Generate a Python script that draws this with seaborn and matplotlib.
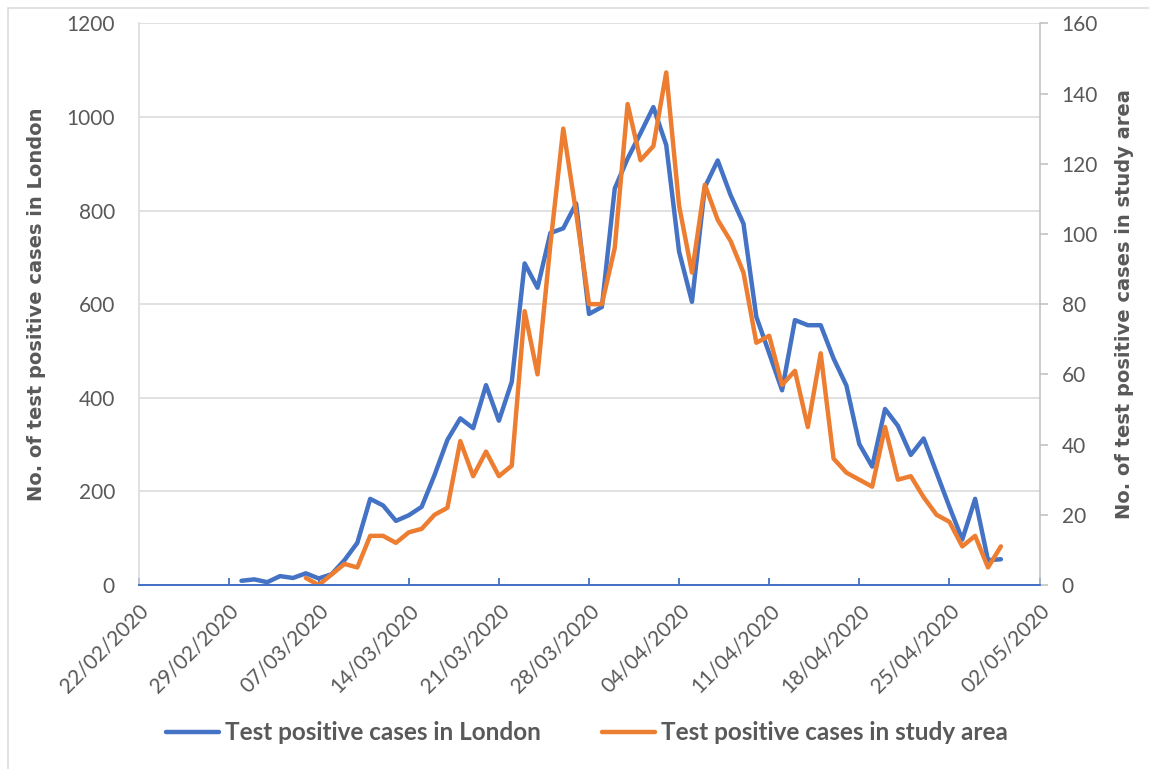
import pandas as pd
import seaborn as sns
import matplotlib.pyplot as plt
import matplotlib.dates as mdates
from matplotlib.lines import Line2D

# daily test positive cases, London (from 01/03/2020)
london_start = "2020-03-01"
london_cases = [9, 12, 6, 19, 15, 25, 14, 23, 53, 90,
                184, 170, 137, 149, 167, 235, 310, 356, 335, 427,
                351, 434, 687, 635, 752, 762, 815, 579, 594, 847,
                911, 965, 1021, 940, 712, 605, 850, 907, 833, 772,
                573, 495, 416, 566, 555, 555, 484, 426, 301, 253,
                376, 340, 278, 313, 240, 167, 97, 184, 53, 55]

# daily test positive cases, study area (from 06/03/2020)
study_start = "2020-03-06"
study_cases = [2, 0, 3, 6, 5, 14, 14, 12, 15, 16,
               20, 22, 41, 31, 38, 31, 34, 78, 60, 97,
               130, 106, 80, 80, 96, 137, 121, 125, 146, 108,
               89, 114, 104, 98, 89, 69, 71, 57, 61, 45,
               66, 36, 32, 30, 28, 45, 30, 31, 25, 20,
               18, 11, 14, 5, 11]

tick_dates = ["2020-02-22", "2020-02-29", "2020-03-07", "2020-03-14", "2020-03-21", "2020-03-28",
              "2020-04-04", "2020-04-11", "2020-04-18", "2020-04-25", "2020-05-02"]

london = pd.DataFrame({"date": pd.date_range(london_start, periods=len(london_cases)),
                       "cases": london_cases})
study = pd.DataFrame({"date": pd.date_range(study_start, periods=len(study_cases)),
                      "cases": study_cases})

sns.set_style("white")
plt.rcParams["font.family"] = ["Lato", "DejaVu Sans"]

BLUE = "#4472C4"
ORANGE = "#ED7D31"
TEXT = "#595959"

fig = plt.figure(figsize=(11.49, 7.69), dpi=100)
ax = fig.add_axes([138.5 / 1149, 1 - 585 / 769, 901 / 1149, (585 - 23.3) / 769])
ax2 = ax.twinx()

line_kw = dict(linewidth=3.2, solid_joinstyle="round", solid_capstyle="round")
sns.lineplot(data=london, x="date", y="cases", ax=ax, color=BLUE,
             label="Test positive cases in London", legend=False, **line_kw)
sns.lineplot(data=study, x="date", y="cases", ax=ax2, color=ORANGE,
             label="Test positive cases in study area", legend=False, **line_kw)

ticks = pd.to_datetime(tick_dates)
ax.set_xlim(ticks[0], ticks[-1])
ax.set_xticks(ticks)
ax.xaxis.set_major_formatter(mdates.DateFormatter("%d/%m/%Y"))
for lab in ax.get_xticklabels():
    lab.set_rotation(45)
    lab.set_ha("right")
    lab.set_va("top")
    lab.set_rotation_mode("anchor")

ax.set_ylim(0, 1200)
ax.set_yticks(range(0, 1201, 200))
ax2.set_ylim(0, 160)
ax2.set_yticks(range(0, 161, 20))

ax.grid(axis="y", color="#D9D9D9", linewidth=1.1)
ax.grid(axis="x", visible=False)
ax.set_axisbelow(True)

for s in ["top"]:
    ax.spines[s].set_visible(False)
    ax2.spines[s].set_visible(False)
ax.spines["left"].set_color("#D9D9D9")
ax.spines["left"].set_linewidth(1.1)
ax2.spines["left"].set_visible(False)
ax.spines["right"].set_visible(False)
ax2.spines["right"].set_color("#BFBFBF")
ax2.spines["right"].set_linewidth(1.1)
ax2.spines["bottom"].set_color(BLUE)
ax2.spines["bottom"].set_linewidth(1.3)
ax.spines["bottom"].set_color(BLUE)
ax.spines["bottom"].set_linewidth(1.3)

ax.tick_params(axis="x", direction="in", length=5, width=1.3, color=BLUE,
               labelsize=15, labelcolor=TEXT, pad=11, bottom=True)
ax.tick_params(axis="y", length=0, labelsize=15, labelcolor=TEXT, pad=17, left=True)
ax2.tick_params(axis="y", direction="out", length=6, width=1.1, color="#BFBFBF",
                labelsize=15, labelcolor=TEXT, pad=10, right=True)

ax.set_xlabel("")
ax.set_ylabel("No. of test positive cases in London", fontsize=14, fontweight="bold",
              color=TEXT, family="DejaVu Sans", labelpad=15)
ax2.set_ylabel("No. of test positive cases in study area", fontsize=14, fontweight="bold",
               color=TEXT, family="DejaVu Sans", labelpad=12)

h1, l1 = ax.get_legend_handles_labels()
h2, l2 = ax2.get_legend_handles_labels()
leg = fig.legend(h1 + h2, l1 + l2, loc="center", bbox_to_anchor=(587 / 1149, 1 - 733 / 769),
                 ncol=2, frameon=False, handlelength=2.2, handletextpad=0.25,
                 columnspacing=2.5, prop={"family": "Lato", "weight": "bold", "size": 17.5})
for t in leg.get_texts():
    t.set_color(TEXT)

# chart frame (top and left edges)
fig.add_artist(Line2D([8 / 1149, 1], [1 - 8 / 769, 1 - 8 / 769], color="#D9D9D9", linewidth=1.1))
fig.add_artist(Line2D([8 / 1149, 8 / 1149], [0, 1 - 8 / 769], color="#D9D9D9", linewidth=1.1))

plt.savefig("out.png", dpi=100)
